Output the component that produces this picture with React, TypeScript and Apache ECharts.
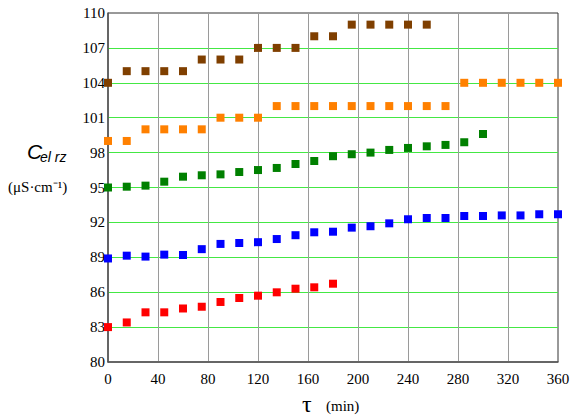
import React, { useEffect, useRef } from "react";
import * as echarts from "echarts";

const minutes = [0, 15, 30, 45, 60, 75, 90, 105, 120, 135, 150, 165, 180, 195, 210, 225, 240, 255, 270, 285, 300, 315, 330, 345, 360];

const brownValues = [104, 105, 105, 105, 105, 106, 106, 106, 107, 107, 107, 108, 108, 109, 109, 109, 109, 109];
const orangeValues = [99, 99, 100, 100, 100, 100, 101, 101, 101, 102, 102, 102, 102, 102, 102, 102, 102, 102, 102, 104, 104, 104, 104, 104, 104];
const greenValues = [95.0, 95.07, 95.16, 95.5, 95.93, 96.05, 96.13, 96.33, 96.5, 96.68, 97.02, 97.28, 97.69, 97.86, 98.0, 98.23, 98.4, 98.54, 98.66, 98.89, 99.6];
const blueValues = [88.9, 89.14, 89.06, 89.23, 89.2, 89.7, 90.15, 90.23, 90.3, 90.57, 90.9, 91.15, 91.2, 91.55, 91.67, 91.92, 92.27, 92.38, 92.38, 92.55, 92.55, 92.6, 92.6, 92.7, 92.7];
const redValues = [83.0, 83.4, 84.27, 84.27, 84.6, 84.75, 85.16, 85.5, 85.7, 85.99, 86.3, 86.42, 86.73];

const seriesList = [
  { name: "brown", color: "#7f3f00", values: brownValues },
  { name: "orange", color: "#ff8000", values: orangeValues },
  { name: "green", color: "#008000", values: greenValues },
  { name: "blue", color: "#0000ff", values: blueValues },
  { name: "red", color: "#ff0000", values: redValues },
];

const serif = "Liberation Serif";
const sans = "Liberation Sans";

export default function App() {
  const ref = useRef<HTMLDivElement>(null);
  useEffect(() => {
    if (!ref.current) return;
    const chart = echarts.init(ref.current, null, { renderer: "svg" });
    chart.setOption({
      animation: false,
      backgroundColor: "#ffffff",
      textStyle: { fontFamily: serif },
      grid: {
        left: 108,
        right: 18,
        top: 13,
        bottom: 56,
        show: true,
        borderColor: "#333",
        borderWidth: 1,
        backgroundColor: "transparent",
      },
      xAxis: {
        type: "value",
        min: 0,
        max: 360,
        interval: 40,
        axisLine: { show: true, lineStyle: { color: "#555", width: 1.5 } },
        axisTick: { show: false },
        axisLabel: { color: "#000", fontFamily: serif, fontSize: 15, margin: 9 },
        splitLine: {
          show: true,
          showMinLine: false,
          showMaxLine: false,
          lineStyle: { color: "#9a9a9a", width: 1 },
        },
      },
      yAxis: {
        type: "value",
        min: 80,
        max: 110,
        interval: 3,
        axisLine: { show: true, lineStyle: { color: "#555", width: 1.5 } },
        axisTick: { show: false },
        axisLabel: { color: "#000", fontFamily: serif, fontSize: 15, margin: 3 },
        splitLine: {
          show: true,
          showMinLine: false,
          showMaxLine: false,
          lineStyle: { color: "#44e844", width: 1 },
        },
      },
      series: seriesList.map((s) => ({
        type: "scatter",
        name: s.name,
        symbol: "rect",
        symbolSize: 8,
        itemStyle: { color: s.color, opacity: 1 },
        data: s.values.map((v, i) => [minutes[i], v]),
        z: 3,
      })),
      graphic: [
        {
          type: "text",
          left: 27,
          top: 141,
          style: { text: "C", fontFamily: sans, fontStyle: "italic", fontSize: 21, fill: "#000" },
        },
        {
          type: "text",
          left: 40,
          top: 150,
          style: { text: "el rz", fontFamily: sans, fontStyle: "italic", fontSize: 14, fill: "#000" },
        },
        {
          type: "text",
          left: 8,
          top: 179,
          style: { text: "(μS·cm⁻¹)", fontFamily: serif, fontSize: 15, fill: "#000" },
        },
        {
          type: "text",
          left: 302,
          top: 392,
          style: { text: "τ", fontFamily: serif, fontSize: 24, fill: "#000" },
        },
        {
          type: "text",
          left: 326,
          top: 398,
          style: { text: "(min)", fontFamily: serif, fontSize: 15, fill: "#000" },
        },
      ],
    });
    return () => chart.dispose();
  }, []);
  return (
    <div
      ref={ref}
      style={{ position: "absolute", left: 0, top: 0, width: 576, height: 418 }}
    />
  );
}
